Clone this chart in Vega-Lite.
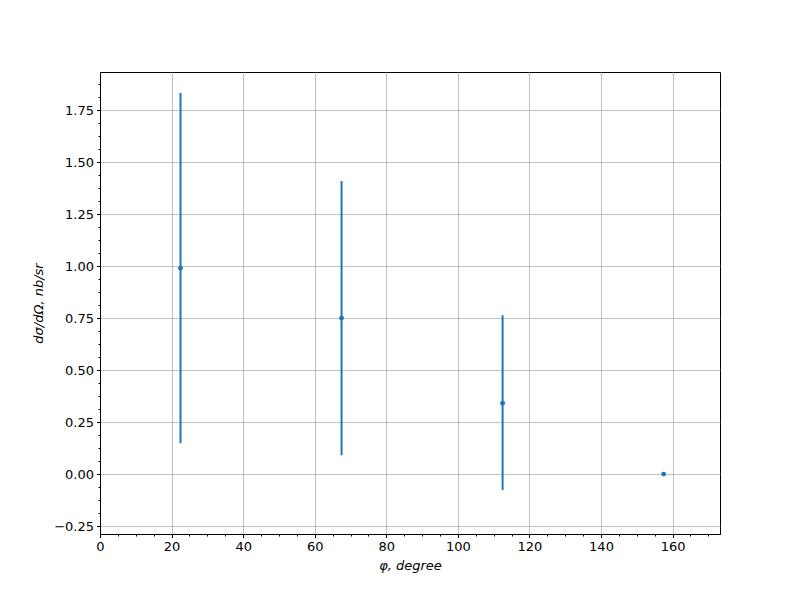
{
  "$schema": "https://vega.github.io/schema/vega-lite/v6.json",
  "width": 620,
  "height": 462,
  "autosize": {"type": "none"},
  "padding": {"left": 100, "top": 72, "right": 80, "bottom": 66},
  "background": "white",
  "config": {
    "view": {"stroke": "black", "strokeWidth": 1},
    "axis": {
      "labelFont": "DejaVu Sans",
      "labelFontSize": 13,
      "labelColor": "black",
      "titleFont": "DejaVu Sans",
      "titleFontSize": 13,
      "titleFontWeight": "normal",
      "titleFontStyle": "italic",
      "titleColor": "black",
      "domainColor": "black",
      "tickColor": "black",
      "gridColor": "#b0b0b0",
      "gridWidth": 0.8
    }
  },
  "data": {
    "values": [
      {"phi": 22.5, "xs": 0.99, "lo": 0.148, "hi": 1.832},
      {"phi": 67.5, "xs": 0.75, "lo": 0.091, "hi": 1.409},
      {"phi": 112.5, "xs": 0.341, "lo": -0.077, "hi": 0.764},
      {"phi": 157.5, "xs": 0.0, "lo": 0.0, "hi": 0.0}
    ]
  },
  "encoding": {
    "x": {
      "field": "phi", "type": "quantitative",
      "scale": {"domain": [0, 173.25], "nice": false, "zero": false},
      "axis": {
        "title": "φ, degree",
        "values": [0,5,10,15,20,25,30,35,40,45,50,55,60,65,70,75,80,85,90,95,100,105,110,115,120,125,130,135,140,145,150,155,160,165,170],
        "labelExpr": "datum.value % 20 === 0 ? datum.label : ''",
        "tickSize": {"expr": "datum.value % 20 === 0 ? 3.5 : 2"},
        "gridOpacity": {"expr": "datum.value % 20 === 0 ? 1 : 0"},
        "grid": true,
        "labelPadding": 3,
        "titlePadding": 6,
        "labelFlush": false
      }
    },
    "y": {
      "field": "xs", "type": "quantitative",
      "scale": {"domain": [-0.288, 1.933], "nice": false, "zero": false},
      "axis": {
        "title": "dσ/dΩ, nb/sr",
        "format": ".2f",
        "values": [-0.25,-0.1875,-0.125,-0.0625,0,0.0625,0.125,0.1875,0.25,0.3125,0.375,0.4375,0.5,0.5625,0.625,0.6875,0.75,0.8125,0.875,0.9375,1,1.0625,1.125,1.1875,1.25,1.3125,1.375,1.4375,1.5,1.5625,1.625,1.6875,1.75,1.8125,1.875],
        "labelExpr": "abs(datum.value*4 - round(datum.value*4)) < 1e-6 ? datum.label : ''",
        "tickSize": {"expr": "abs(datum.value*4 - round(datum.value*4)) < 1e-6 ? 3.5 : 2"},
        "gridOpacity": {"expr": "abs(datum.value*4 - round(datum.value*4)) < 1e-6 ? 1 : 0"},
        "grid": true,
        "labelPadding": 3,
        "titlePadding": 8,
        "labelFlush": false
      }
    }
  },
  "layer": [
    {
      "mark": {"type": "rule", "color": "#1f77b4", "strokeWidth": 2},
      "encoding": {
        "y": {"field": "lo", "type": "quantitative"},
        "y2": {"field": "hi"}
      }
    },
    {
      "mark": {"type": "point", "filled": true, "color": "#1f77b4", "size": 24, "opacity": 1}
    }
  ]
}
